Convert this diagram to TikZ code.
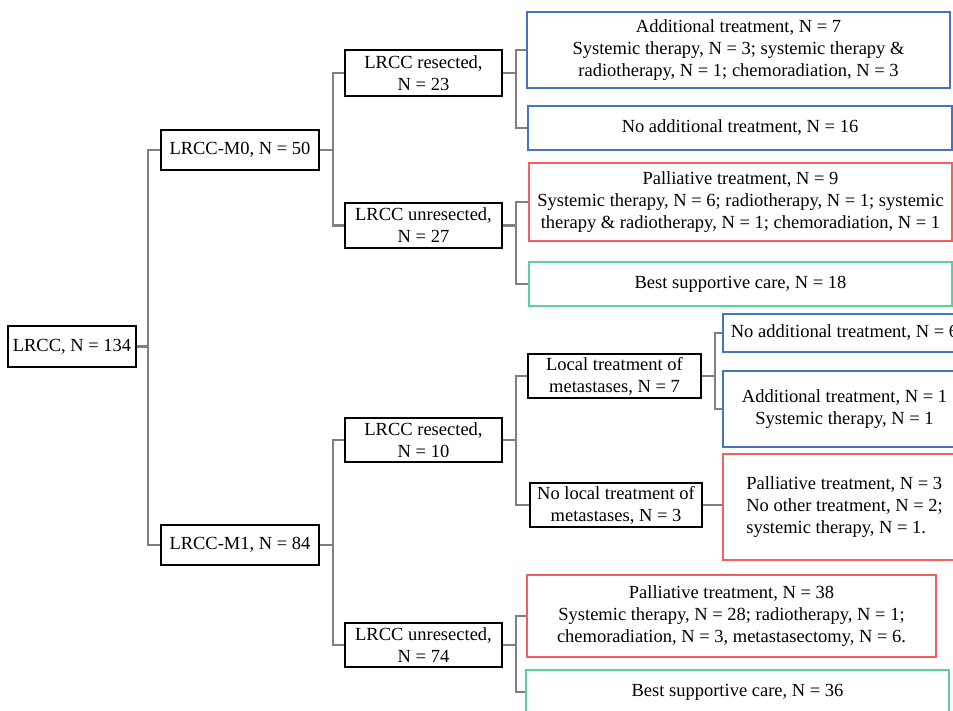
\documentclass[tikz,border=0pt]{standalone}
\usepackage{fontspec}
\setmainfont{Liberation Serif}
\definecolor{cblue}{RGB}{68,114,196}
\definecolor{cred}{RGB}{245,95,95}
\definecolor{cgreen}{RGB}{88,208,165}
\definecolor{cgray}{RGB}{128,128,128}
\begin{document}
\begin{tikzpicture}[x=1pt,y=-1pt,
  every node/.style={font={\fontspec{Liberation Serif}\fontsize{18.5}{22}\selectfont}, inner sep=0pt, align=center},
  bbox/.style={draw=black, line width=2.6pt, fill=white},
  blbox/.style={draw=cblue, line width=2.4pt, fill=white},
  rdbox/.style={draw=cred, line width=2.4pt, fill=white},
  gnbox/.style={draw=cgreen, line width=2.4pt, fill=white},
  conn/.style={draw=cgray, line width=2.2pt}]
\clip (0,0) rectangle (953,711);
\fill[white] (0,0) rectangle (953,711);
% boxes
\node[bbox, minimum width=128pt, minimum height=41pt] (root) at (72,346.5) {LRCC, N = 134};
\node[bbox, minimum width=158pt, minimum height=40pt] (m0) at (240,150) {LRCC-M0, N = 50};
\node[bbox, minimum width=158pt, minimum height=40pt] (m1) at (240,545) {LRCC-M1, N = 84};
\node[bbox, minimum width=157pt, minimum height=46pt] (resA) at (423.5,73) {LRCC resected,\\N = 23};
\node[bbox, minimum width=157pt, minimum height=45pt] (unresA) at (423.5,225.5) {LRCC unresected,\\N = 27};
\node[bbox, minimum width=157pt, minimum height=44pt] (resB) at (423.5,440) {LRCC resected,\\N = 10};
\node[bbox, minimum width=157pt, minimum height=44pt] (unresB) at (423.5,645) {LRCC unresected,\\N = 74};
\node[bbox, minimum width=173pt, minimum height=44pt] (local) at (614.5,376) {Local treatment of\\metastases, N = 7};
\node[bbox, minimum width=172pt, minimum height=44pt] (nolocal) at (616,505) {No local treatment of\\metastases, N = 3};
% outcome boxes
\node[blbox, minimum width=423pt, minimum height=76pt] (addA) at (738.5,50) {Additional treatment, N = 7\\Systemic therapy, N = 3; systemic therapy \&\\radiotherapy, N = 1; chemoradiation, N = 3};
\node[blbox, minimum width=424pt, minimum height=44pt] (noaddA) at (740,128) {No additional treatment, N = 16};
\node[rdbox, minimum width=423pt, minimum height=78pt] (palA) at (740.5,202) {Palliative treatment, N = 9\\Systemic therapy, N = 6; radiotherapy, N = 1; systemic\\therapy \& radiotherapy, N = 1; chemoradiation, N = 1};
\node[gnbox, minimum width=423pt, minimum height=44pt] (bscA) at (740.5,284) {Best supportive care, N = 18};
\node[blbox, minimum width=243pt, minimum height=38pt] (noaddB) at (844.5,333) {No additional treatment, N = 6};
\node[blbox, minimum width=243pt, minimum height=76pt] (addB) at (844.5,409) {Additional treatment, N = 1\\Systemic therapy, N = 1};
\node[rdbox, minimum width=243pt, minimum height=106pt, align=left] (palB) at (844.5,507) {Palliative treatment, N = 3\\No other treatment, N = 2;\\systemic therapy, N = 1.};
\node[rdbox, minimum width=409pt, minimum height=82pt] (pal38) at (731.5,616) {Palliative treatment, N = 38\\Systemic therapy, N = 28; radiotherapy, N = 1;\\chemoradiation, N = 3, metastasectomy, N = 6.};
\node[gnbox, minimum width=423pt, minimum height=44pt] (bsc36) at (737.5,692) {Best supportive care, N = 36};
% connectors
\draw[conn] (root.east) -- ++(11,0) |- (m0.west);
\draw[conn] (root.east) -- ++(11,0) |- (m1.west);
\draw[conn] (m0.east) -- ++(13,0) |- (resA.west);
\draw[conn] (m0.east) -- ++(13,0) |- (unresA.west);
\draw[conn] (m1.east) -- ++(13,0) |- (resB.west);
\draw[conn] (m1.east) -- ++(13,0) |- (unresB.west);
\draw[conn] (resA.east) -- ++(13,0) |- (addA.west);
\draw[conn] (resA.east) -- ++(13,0) |- (noaddA.west);
\draw[conn] (unresA.east) -- ++(13,0) |- (palA.west);
\draw[conn] (unresA.east) -- ++(13,0) |- (bscA.west);
\draw[conn] (resB.east) -- ++(13,0) |- (local.west);
\draw[conn] (resB.east) -- ++(13,0) |- (nolocal.west);
\draw[conn] (local.east) -- ++(13,0) |- (noaddB.west);
\draw[conn] (local.east) -- ++(13,0) |- (addB.west);
\draw[conn] (nolocal.east) -- (nolocal.east -| palB.west);
\draw[conn] (unresB.east) -- ++(13,0) |- (pal38.west);
\draw[conn] (unresB.east) -- ++(13,0) |- (bsc36.west);
\end{tikzpicture}
\end{document}
